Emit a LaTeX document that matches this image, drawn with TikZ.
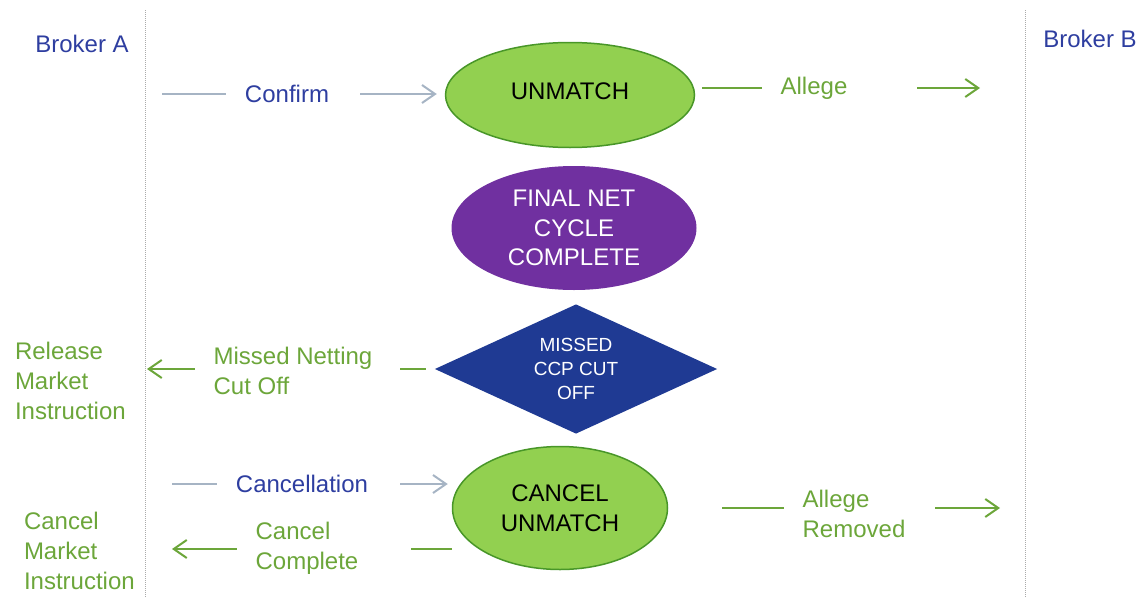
\documentclass[tikz,border=0pt]{standalone}
\usepackage{fontspec}
\setmainfont{Liberation Sans}
\usetikzlibrary{arrows.meta,shapes.geometric}

\definecolor{brokerblue}{RGB}{46,62,160}
\definecolor{flowgrey}{RGB}{166,180,196}
\definecolor{flowgreen}{RGB}{108,166,58}
\definecolor{matchgreen}{RGB}{146,208,80}
\definecolor{matchedge}{RGB}{72,150,40}
\definecolor{netpurple}{RGB}{112,48,160}
\definecolor{cutblue}{RGB}{31,58,147}
\definecolor{lanegrey}{RGB}{170,170,170}

\begin{document}
\begin{tikzpicture}[x=1pt,y=-1pt,>={Straight Barb[length=13pt,width=18pt]},line width=2pt,
  main node/.style={ellipse,inner sep=0pt,align=center,font=\fontsize{24}{29.5}\selectfont},
  match node/.style={main node,fill=matchgreen,draw=matchedge,line width=1.5pt},
  flow label/.style={inner xsep=18pt,inner ysep=2pt,align=left,text=flowgreen,font=\fontsize{24}{30}\selectfont},
  side label/.style={inner sep=0pt,align=left,text=flowgreen,font=\fontsize{24}{30}\selectfont},
  grey flow/.style={draw=flowgrey},
  green flow/.style={draw=flowgreen}]

 \useasboundingbox (0,0) rectangle (1140,597);

 % broker lanes
 \draw[lanegrey,line width=1pt,dash pattern=on 1pt off 1pt] (145,10) -- (145,597);
 \draw[lanegrey,line width=1pt,dash pattern=on 1pt off 1pt] (1025,10) -- (1025,597);
 \node[side label,text=brokerblue] (brokera) at (82,44) {Broker A};
 \node[side label,text=brokerblue] (brokerb) at (1090,39) {Broker B};

 \node[match node,minimum width=249pt,minimum height=105pt] (unmatch) at (570,95) {\raisebox{7pt}{UNMATCH}};
 \node[main node,fill=netpurple,text=white,minimum width=245pt,minimum height=124pt] (final) at (574,228) {FINAL NET\\CYCLE\\COMPLETE};
 \node[diamond,shape aspect=2.18,fill=cutblue,text=white,inner sep=0pt,minimum width=283pt,minimum height=130pt,
   align=center,font=\fontsize{19}{24}\selectfont] (cut) at (576,369) {MISSED\\CCP CUT\\OFF};
 \node[match node,minimum width=215pt,minimum height=123pt] (cancel) at (560,508) {CANCEL\\UNMATCH};

 \node[flow label,text=brokerblue] (confirm) at (287,94) {Confirm};
 \node[flow label] (allege) at (814,88) {Allege};
 \node[flow label] (netting) at (293,371) {Missed Netting\\Cut Off};
 \node[flow label,text=brokerblue] (cancellation) at (302,484) {Cancellation};
 \node[flow label] (removed) at (854,514) {Allege\\Removed};
 \node[flow label] (complete) at (307,548) {Cancel\\Complete};

 \node[side label,anchor=west] (release) at (14,381) {Release\\Market\\Instruction};
 \node[side label,anchor=west] (cancelmarket) at (23,551) {Cancel\\Market\\Instruction};

 \coordinate (confirm start) at (162,94);
 \coordinate (allege end) at (980,88);
 \coordinate (netting end) at (147,369);
 \coordinate (cancellation start) at (172,484);
 \coordinate (removed end) at (1000,508);
 \coordinate (complete start) at (452,549);
 \coordinate (complete end) at (172,549);

 \draw[grey flow] (confirm start) -- (confirm.west);
 \draw[grey flow,->,shorten <=12pt,shorten >=8pt] (confirm.east) -- (confirm.east -| unmatch.west);
 \draw[green flow,shorten <=7pt] (allege.west -| unmatch.east) -- (allege.west);
 \draw[green flow,->,shorten <=51pt] (allege.east) -- (allege end);

 \draw[green flow,shorten <=8pt,shorten >=9pt] (cut.west) -- (cut.west -| netting.east);
 \draw[green flow,->] (netting.west |- cut.west) -- (netting end);

 \draw[grey flow] (cancellation start) -- (cancellation.west);
 \draw[grey flow,->,shorten <=13pt,shorten >=4pt] (cancellation.east) -- (cancellation.east -| cancel.west);
 \draw[green flow,shorten <=54pt] (cancel.east) -- (removed.west |- cancel.east);
 \draw[green flow,->,shorten <=11pt] (removed.east |- cancel.east) -- (removed end);
 \draw[green flow,shorten >=34pt] (complete start) -- (complete.east |- complete start);
 \draw[green flow,->] (complete.west |- complete start) -- (complete end);

\end{tikzpicture}
\end{document}
